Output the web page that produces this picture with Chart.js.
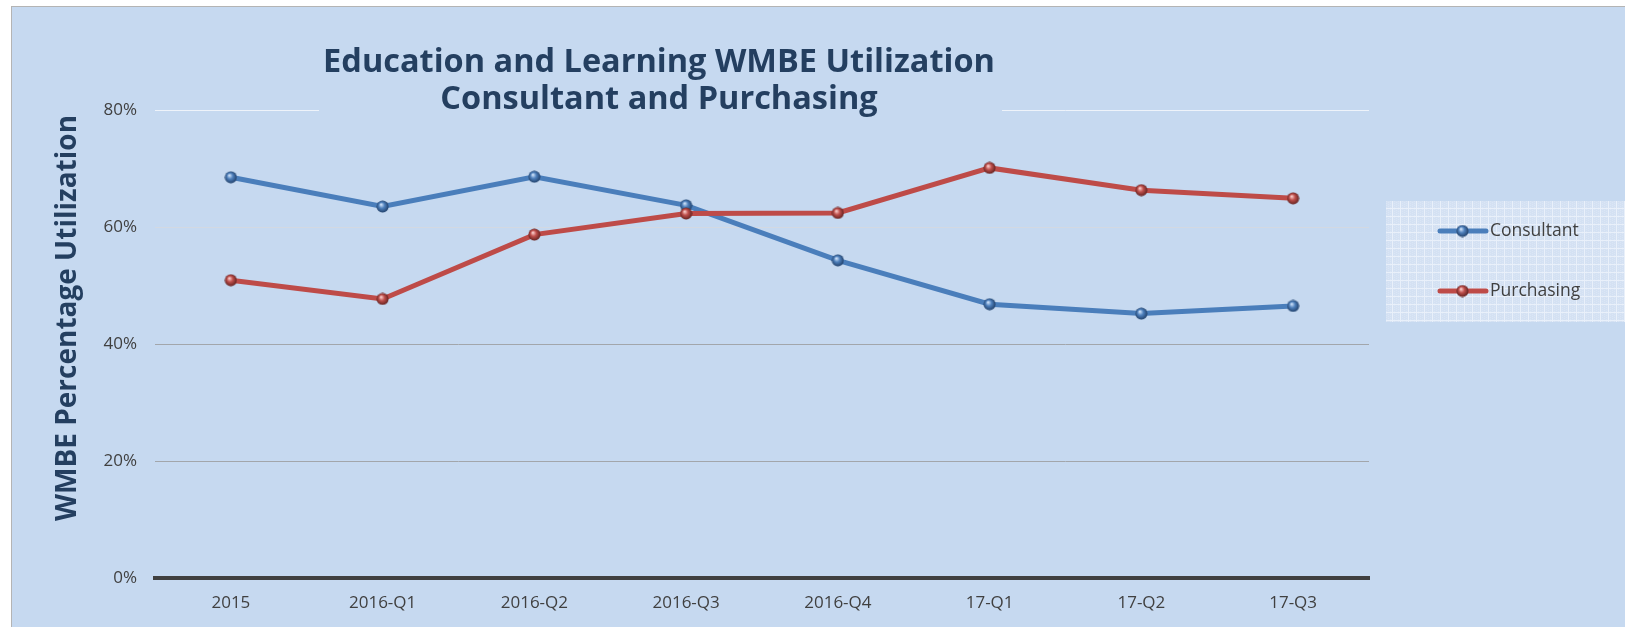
<!DOCTYPE html>
<html lang="en">
<head>
  <meta charset="UTF-8">
  <title>Education and Learning WMBE Utilization</title>
  <script src="https://cdn.jsdelivr.net/npm/chart.js"></script>
  <style>
    html, body {
      margin: 0;
      padding: 0;
      width: 1625px;
      height: 627px;
      overflow: hidden;
      background: #fff;
    }
    /* fondo del grafico, con el marco gris arriba e izquierda */
    #frame {
      position: absolute;
      left: 11px;
      top: 6px;
      right: 0;
      bottom: 0;
      background: #c6d9f0;
      border-left: 1px solid #b4b4b4;
      border-top: 1px solid #b4b4b4;
    }
    #chart {
      position: absolute;
      left: 0;
      top: 0;
    }
  </style>
</head>
<body>
  <div id="frame"></div>
  <canvas id="chart" width="1625" height="627"></canvas>

  <script>
    // Datos
    const categories = ['2015', '2016-Q1', '2016-Q2', '2016-Q3', '2016-Q4', '17-Q1', '17-Q2', '17-Q3'];
    const consultant = [68.5, 63.5, 68.6, 63.7, 54.3, 46.8, 45.2, 46.5];
    const purchasing = [50.9, 47.7, 58.7, 62.3, 62.4, 70.1, 66.3, 64.9];
    const seriesNames = ['Consultant', 'Purchasing'];
    const yTicks = [0, 20, 40, 60, 80];
    const titleLines = ['Education and Learning WMBE Utilization', 'Consultant and Purchasing'];
    const yTitle = 'WMBE Percentage Utilization';

    const BG = '#c6d9f0';
    const NAVY = '#243f60';
    const GREY = '#404040';

    // esfera con brillo para los marcadores
    function makeBall(light, mid, dark) {
      const c = document.createElement('canvas');
      c.width = 13; c.height = 13;
      const g = c.getContext('2d');
      const grad = g.createRadialGradient(5, 4.5, 0.5, 6.5, 6.5, 6.5);
      grad.addColorStop(0, light);
      grad.addColorStop(0.4, mid);
      grad.addColorStop(1, dark);
      g.fillStyle = grad;
      g.beginPath();
      g.arc(6.5, 6.5, 6, 0, Math.PI * 2);
      g.fill();
      return c;
    }
    const blueBall = makeBall('#c8ddf6', '#4f81bd', '#1c3a62');
    const redBall = makeBall('#f6c6c4', '#c0504d', '#5a1d1b');

    // trama de la leyenda
    function makePattern(ctx) {
      const t = document.createElement('canvas');
      t.width = 8; t.height = 8;
      const g = t.getContext('2d');
      g.fillStyle = '#d4e1f3';
      g.fillRect(0, 0, 8, 8);
      g.fillStyle = '#dbe6f5';
      for (let i = 0; i < 8; i += 2) for (let j = (i / 2) % 2; j < 8; j += 2) g.fillRect(i, j, 1, 1);
      g.fillStyle = '#e9f0fa';
      g.fillRect(0, 0, 8, 1);
      g.fillRect(0, 0, 1, 8);
      return ctx.createPattern(t, 'repeat');
    }

    const decor = {
      id: 'decor',
      beforeDatasetsDraw(chart) {
        const ctx = chart.ctx;
        ctx.save();
        // caja del titulo tapa la linea del 80%
        ctx.fillStyle = BG;
        ctx.fillRect(319, 22, 683, 94);
        ctx.fillStyle = NAVY;
        ctx.font = 'bold 32.5px "Open Sans"';
        ctx.textAlign = 'center';
        ctx.textBaseline = 'alphabetic';
        ctx.fillText(titleLines[0], 659, 72);
        ctx.fillText(titleLines[1], 659, 109);
        // titulo del eje y
        ctx.translate(76, 318);
        ctx.rotate(-Math.PI / 2);
        ctx.font = 'bold 28px "Open Sans"';
        ctx.fillText(yTitle, 0, 0);
        ctx.restore();
      },
      afterDraw(chart) {
        const ctx = chart.ctx;
        ctx.save();
        ctx.fillStyle = makePattern(ctx);
        ctx.fillRect(1386, 201, 239, 121);
        const rows = [231, 291];
        const balls = [blueBall, redBall];
        chart.data.datasets.forEach((ds, i) => {
          const y = rows[i];
          ctx.strokeStyle = ds.borderColor;
          ctx.lineWidth = 5;
          ctx.lineCap = 'round';
          ctx.beginPath();
          ctx.moveTo(1440, y);
          ctx.lineTo(1486, y);
          ctx.stroke();
          ctx.drawImage(balls[i], 1456, y - 6.5);
          ctx.fillStyle = GREY;
          ctx.font = '17.5px "Open Sans"';
          ctx.textAlign = 'left';
          ctx.textBaseline = 'middle';
          ctx.fillText(ds.label, 1490, y);
        });
        ctx.restore();
      }
    };

    function draw() {
      new Chart(document.getElementById('chart'), {
        type: 'line',
        data: {
          labels: categories,
          datasets: [
            {
              label: seriesNames[0],
              data: consultant,
              borderColor: '#4a7ebb',
              borderWidth: 5,
              pointStyle: blueBall,
              order: 1,
              tension: 0
            },
            {
              label: seriesNames[1],
              data: purchasing,
              borderColor: '#be4b48',
              borderWidth: 5,
              pointStyle: redBall,
              order: 0,
              tension: 0
            }
          ]
        },
        options: {
          responsive: false,
          animation: false,
          devicePixelRatio: 1,
          events: [],
          layout: { padding: { left: 100, right: 256, top: 110, bottom: 9 } },
          plugins: {
            legend: { display: false },
            title: { display: false },
            tooltip: { enabled: false }
          },
          scales: {
            x: {
              offset: true,
              grid: { display: true, color: 'rgba(0,0,0,0)', drawTicks: false },
              border: { display: true, color: GREY, width: 4 },
              ticks: {
                color: GREY,
                font: { family: 'Open Sans', size: 17 },
                padding: 15,
                maxRotation: 0,
                autoSkip: false
              },
              afterFit(scale) { scale.height = 40; }
            },
            y: {
              min: 0,
              max: 80,
              afterBuildTicks(scale) { scale.ticks = yTicks.map(v => ({ value: v })); },
              grid: {
                drawTicks: false,
                color(ctx) {
                  const v = ctx.tick && ctx.tick.value;
                  if (v === 0) return GREY;
                  if (v === 80) return '#eef3fa';
                  if (v === 60) return '#d3d9e2';
                  return '#a2a6ab';
                }
              },
              border: { display: false },
              ticks: {
                color: GREY,
                font: { family: 'Open Sans', size: 17 },
                padding: 18,
                callback: v => v + '%'
              },
              afterFit(scale) { scale.width = 55; }
            }
          }
        },
        plugins: [decor]
      });
    }

    Promise.all([
      document.fonts.load('17px "Open Sans"'),
      document.fonts.load('bold 32px "Open Sans"')
    ]).then(draw, draw);
  </script>
</body>
</html>
